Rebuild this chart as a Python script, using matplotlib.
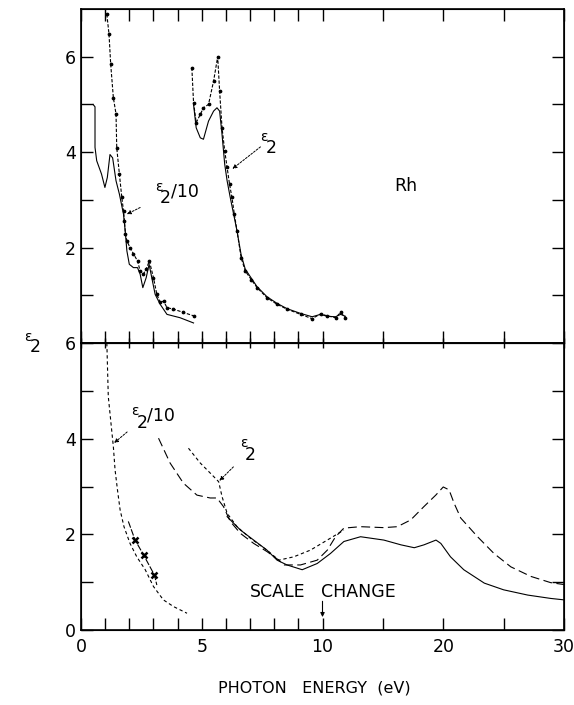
import numpy as np
import matplotlib
matplotlib.use('Agg')
import matplotlib.pyplot as plt
from matplotlib.ticker import FixedLocator, NullFormatter

plt.rcParams['font.family'] = 'DejaVu Sans'

# --- Rh, upper panel (energies in eV) ---
# eps2/10, measured points (dots joined by dashes)
top_e10_pts_x = [1.07, 1.16, 1.23, 1.34, 1.45, 1.48, 1.59, 1.69, 1.76, 1.80, 1.84, 1.90, 2.03,
                 2.17, 2.34, 2.45, 2.58, 2.70, 2.83, 3.00, 3.14, 3.28, 3.42, 3.56, 3.83, 4.24, 4.66]
top_e10_pts_y = [6.89, 6.47, 5.84, 5.14, 4.80, 4.09, 3.54, 3.05, 2.77, 2.56, 2.28, 2.14, 2.00,
                 1.87, 1.72, 1.51, 1.44, 1.55, 1.72, 1.37, 1.02, 0.85, 0.88, 0.74, 0.71, 0.64, 0.57]
# eps2/10, solid curve
top_e10_x = [0.50, 0.58, 0.58, 0.65, 0.85, 0.99, 1.09, 1.20, 1.31, 1.45, 1.59, 1.76, 1.83, 1.90,
             2.00, 2.17, 2.34, 2.45, 2.56, 2.70, 2.82, 2.93, 3.07, 3.28, 3.56, 4.10, 4.66]
top_e10_y = [5.00, 4.95, 4.10, 3.82, 3.54, 3.26, 3.47, 3.95, 3.88, 3.40, 3.12, 2.70, 2.35, 1.93,
             1.65, 1.58, 1.58, 1.44, 1.16, 1.37, 1.65, 1.37, 1.02, 0.81, 0.60, 0.53, 0.42]
# eps2, measured points
top_e2_pts_x = [4.59, 4.66, 4.77, 4.94, 5.07, 5.28, 5.49, 5.66, 5.74, 5.84, 5.95, 6.05, 6.15, 6.25,
                6.35, 6.46, 6.63, 6.80, 7.05, 7.29, 7.70, 8.12, 8.53, 9.09, 9.57, 9.92, 10.38,
                11.08, 11.5, 11.9]
top_e2_pts_y = [5.77, 5.04, 4.62, 4.79, 4.93, 5.00, 5.49, 6.00, 5.28, 4.51, 4.03, 3.68, 3.33, 3.05,
                2.70, 2.35, 1.79, 1.51, 1.33, 1.16, 0.95, 0.81, 0.71, 0.60, 0.51, 0.61, 0.57,
                0.53, 0.64, 0.53]
# eps2, solid curve
top_e2_x = [4.66, 4.77, 4.94, 5.07, 5.28, 5.49, 5.63, 5.74, 5.84, 5.95, 6.05, 6.18, 6.32, 6.46,
            6.63, 6.80, 7.05, 7.29, 7.70, 8.12, 8.53, 9.09, 9.57, 9.92, 10.38, 11.08, 11.5, 11.9]
top_e2_y = [5.00, 4.51, 4.30, 4.27, 4.65, 4.86, 4.93, 4.86, 4.37, 3.75, 3.40, 3.05, 2.70, 2.35,
            1.85, 1.55, 1.36, 1.18, 0.97, 0.83, 0.72, 0.62, 0.55, 0.60, 0.56, 0.55, 0.60, 0.56]

# --- lower panel ---
bot_e10_x = [1.07, 1.13, 1.27, 1.34, 1.41, 1.51, 1.62, 1.78, 2.03, 2.31, 2.66, 3.00, 3.41, 3.83, 4.39]
bot_e10_y = [6.00, 4.88, 4.18, 3.83, 3.35, 2.93, 2.51, 2.16, 1.81, 1.53, 1.26, 0.91, 0.63, 0.49, 0.35]
bot_e10b_x = [1.96, 2.24, 2.59, 3.04, 3.14]
bot_e10b_y = [2.27, 1.88, 1.57, 1.15, 0.94]
cross_x = [2.24, 2.59, 3.04]
cross_y = [1.88, 1.57, 1.15]

bot_long_x = [3.21, 3.69, 4.24, 4.80, 5.35, 5.63, 5.90, 6.18, 6.60, 7.15, 7.70, 8.19, 8.39, 9.09,
              9.78, 10.4, 11.08, 11.77, 13.15, 15.08, 16.2, 17.3, 18.4, 19.38, 20.0, 20.48, 20.9,
              21.45, 22.84, 24.2, 25.6, 27.26, 28.9, 30.0]
bot_long_y = [4.01, 3.49, 3.07, 2.82, 2.76, 2.76, 2.58, 2.27, 2.02, 1.81, 1.64, 1.46, 1.36, 1.36,
              1.46, 1.67, 1.95, 2.13, 2.16, 2.14, 2.16, 2.30, 2.58, 2.82, 2.99, 2.93, 2.65,
              2.34, 1.95, 1.60, 1.32, 1.12, 0.99, 0.95]
bot_solid_x = [6.05, 6.60, 7.15, 7.70, 8.12, 8.53, 9.16, 9.78, 10.66, 11.77, 13.15, 15.08, 16.5,
               17.6, 18.4, 19.4, 19.8, 20.6, 21.7, 23.4, 25.0, 27.0, 28.9, 30.0]
bot_solid_y = [2.37, 2.09, 1.88, 1.67, 1.46, 1.36, 1.26, 1.39, 1.60, 1.85, 1.95, 1.88, 1.78,
               1.72, 1.78, 1.88, 1.81, 1.53, 1.26, 0.98, 0.84, 0.73, 0.66, 0.63]
bot_short_x = [4.45, 4.94, 5.49, 5.70, 5.84, 6.05, 6.46, 7.01, 7.70, 8.19, 8.81, 9.50, 10.66, 11.77]
bot_short_y = [3.80, 3.49, 3.21, 3.10, 2.79, 2.44, 2.16, 1.92, 1.67, 1.46, 1.53, 1.67, 1.92, 2.09]

xmajor = [0, 5, 10, 20, 30]
xminor = [1, 2, 3, 4, 6, 7, 8, 9, 15, 25]


# energy axis: linear to 10 eV, half scale above
def fwd(x):
    x = np.asarray(x, dtype=float)
    return np.where(x <= 10, x, 10 + (x - 10) / 2.)


def inv(u):
    u = np.asarray(u, dtype=float)
    return np.where(u <= 10, u, 10 + 2. * (u - 10))


def set_energy_axis(ax):
    ax.set_xscale('function', functions=(fwd, inv))
    ax.set_xlim(0, 30)
    ax.xaxis.set_major_locator(FixedLocator(xmajor))
    ax.xaxis.set_minor_locator(FixedLocator(xminor))


def eps_label(ax, x, y, tail=''):
    ax.annotate('\u03b5', (x, y), xytext=(-4, 9), textcoords='offset points',
                fontsize=10, ha='left', va='baseline')
    ax.annotate('2', (x, y), xytext=(0, 0), textcoords='offset points',
                fontsize=12.5, ha='left', va='baseline')
    if tail:
        ax.annotate(tail, (x, y), xytext=(7.5, 5), textcoords='offset points',
                    fontsize=12.5, ha='left', va='baseline')


def pointer(ax, tail, head):
    ax.annotate('', xy=head, xytext=tail,
                arrowprops=dict(arrowstyle='-|>', lw=0.7, ls=(0, (2, 1.5)), color='k',
                                mutation_scale=6, shrinkA=0, shrinkB=0))


fig = plt.figure(figsize=(5.74, 7.05), dpi=100)
left, right = 81 / 574., 564 / 574.
ybot, ymid, ytop = 75 / 705., 362 / 705., 696 / 705.
ax_top = fig.add_axes([left, ymid, right - left, ytop - ymid])
ax_bot = fig.add_axes([left, ybot, right - left, ymid - ybot])

for ax in (ax_top, ax_bot):
    set_energy_axis(ax)
    for s in ax.spines.values():
        s.set_linewidth(1.2)
    ax.tick_params(axis='both', which='both', direction='in', length=8.5, width=1.0,
                   labelsize=12.5, left=True, right=True)
    ax.yaxis.set_minor_locator(FixedLocator([1, 3, 5]))

# upper panel
ax_top.set_ylim(0, 7)
ax_top.yaxis.set_major_locator(FixedLocator([2, 4, 6]))
ax_top.tick_params(axis='x', which='both', top=False, bottom=False,
                   labeltop=False, labelbottom=False)

# inward ticks along the top edge
ax_tt = ax_top.twiny()
set_energy_axis(ax_tt)
ax_tt.tick_params(axis='x', which='both', top=True, bottom=False, labeltop=False,
                  direction='in', length=8.5, width=1.0)

ax_top.plot(top_e10_pts_x, top_e10_pts_y, color='k', lw=0.8, ls=(0, (3, 1.5)),
            marker='o', ms=1.7)
ax_top.plot(top_e10_x, top_e10_y, color='k', lw=0.8)
ax_top.plot(top_e2_pts_x, top_e2_pts_y, color='k', lw=0.8, ls=(0, (3, 1.5)),
            marker='o', ms=1.7)
ax_top.plot(top_e2_x, top_e2_y, color='k', lw=0.8)

eps_label(ax_top, 3.28, 2.93, '/10')
pointer(ax_top, (2.45, 2.84), (1.9, 2.70))
eps_label(ax_top, 7.63, 3.98)
pointer(ax_top, (7.43, 4.11), (6.27, 3.65))
ax_top.text(16.9, 3.3, 'Rh', fontsize=12.5, ha='center', va='center')

# lower panel
ax_bot.set_ylim(0, 6)
ax_bot.yaxis.set_major_locator(FixedLocator([0, 2, 4, 6]))
ax_bot.xaxis.set_major_formatter(plt.FixedFormatter(['0', '5', '10', '20', '30']))
ax_bot.xaxis.set_minor_formatter(NullFormatter())
ax_bot.tick_params(axis='x', which='both', top=False, bottom=True, pad=6)

# crossing ticks along the shared edge
ax_tw = ax_bot.twiny()
set_energy_axis(ax_tw)
ax_tw.tick_params(axis='x', which='both', top=True, bottom=False, labeltop=False,
                  direction='inout', length=7, width=1.0)

ax_bot.plot(bot_e10_x, bot_e10_y, color='k', lw=0.8, ls=(0, (3, 2.5)))
ax_bot.plot(bot_e10b_x, bot_e10b_y, color='k', lw=0.8, ls=(0, (6, 1.5)))
ax_bot.plot(cross_x, cross_y, ls='none', marker='x', color='k', ms=5, mew=1.8)
ax_bot.plot(bot_long_x, bot_long_y, color='k', lw=0.8, ls=(0, (8, 4)))
ax_bot.plot(bot_solid_x, bot_solid_y, color='k', lw=0.8)
ax_bot.plot(bot_short_x, bot_short_y, color='k', lw=0.8, ls=(0, (3, 2.5)))

eps_label(ax_bot, 2.32, 4.23, '/10')
pointer(ax_bot, (1.91, 4.14), (1.37, 3.91))
eps_label(ax_bot, 6.8, 3.56)
pointer(ax_bot, (6.31, 3.41), (5.73, 3.12))

ax_bot.text(7.01, 0.69, 'SCALE', fontsize=12.5, ha='left', va='baseline')
ax_bot.text(9.92, 0.69, 'CHANGE', fontsize=12.5, ha='left', va='baseline')
ax_bot.annotate('', xy=(10, 0.27), xytext=(10, 0.6),
                arrowprops=dict(arrowstyle='-|>', lw=0.8, color='k', mutation_scale=6,
                                shrinkA=0, shrinkB=0))

# axis titles
fig.text(24 / 574., 1 - 341 / 705., '\u03b5', fontsize=10, ha='left', va='baseline')
fig.text(30 / 574., 1 - 352 / 705., '2', fontsize=12.5, ha='left', va='baseline')
fig.text(314 / 574., 1 - 688 / 705., 'PHOTON   ENERGY  (eV)', fontsize=11.5,
         ha='center', va='center')

fig.savefig('out.png', dpi=100)
